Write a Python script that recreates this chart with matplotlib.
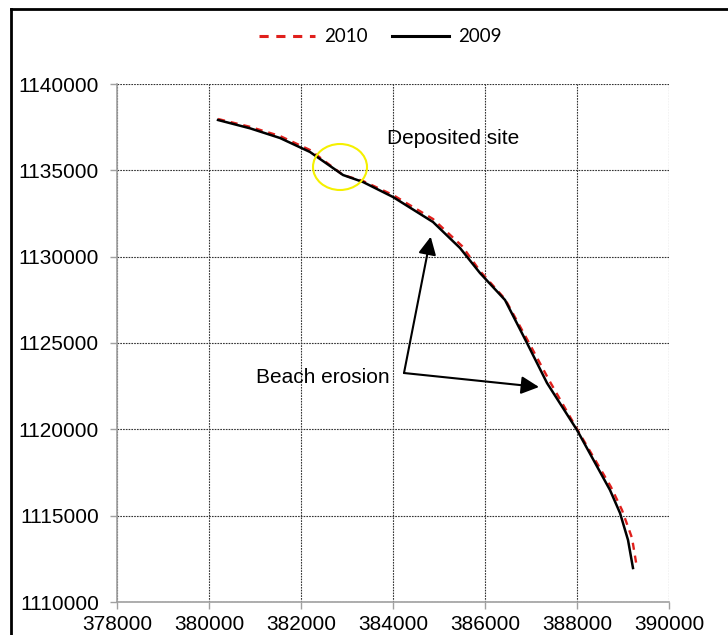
import matplotlib
matplotlib.use("Agg")
import matplotlib.pyplot as plt
from matplotlib.patches import Ellipse
from matplotlib.lines import Line2D

# shoreline coordinates
x_2009 = [380196, 380891, 381543, 382196, 382913, 383348, 384000, 384870, 385457,
          385891, 386435, 386913, 387348, 388000, 388717, 388935, 389109, 389217]
y_2009 = [1137915, 1137434, 1136873, 1136062, 1134730, 1134324, 1133455, 1132007, 1130501,
          1129053, 1127490, 1124999, 1122683, 1119960, 1116485, 1115153, 1113589, 1111968]

x_2010 = [380196, 380891, 381543, 382196, 382913, 383348, 384000, 384870, 385500,
          385891, 386435, 386935, 387391, 388000, 388739, 388978, 389196, 389304]
y_2010 = [1137973, 1137520, 1136988, 1136178, 1134730, 1134382, 1133571, 1132181, 1130617,
          1129170, 1127548, 1125115, 1122856, 1120018, 1116658, 1115326, 1113705, 1111968]

x_ticks = [378000, 380000, 382000, 384000, 386000, 388000, 390000]
y_ticks = [1110000, 1115000, 1120000, 1125000, 1130000, 1135000, 1140000]

fig = plt.figure(figsize=(7.28, 6.35), dpi=100)
ax = fig.add_axes([117 / 728, 1 - 602 / 635, (669 - 117) / 728, (602 - 84) / 635])

ax.plot(x_2010, y_2010, color="#e0201c", lw=1.7, ls=(0, (3, 2.5)), label="2010", zorder=3)
ax.plot(x_2009, y_2009, color="black", lw=1.8, label="2009", zorder=4)

ax.set_xlim(378000, 390000)
ax.set_ylim(1110000, 1140000)
ax.set_xticks(x_ticks)
ax.set_yticks(y_ticks)
ax.set_xticklabels([str(v) for v in x_ticks])
ax.set_yticklabels([str(v) for v in y_ticks])

ax.grid(True, color="#333333", lw=0.8, ls=(0, (1.5, 1)))
ax.set_axisbelow(True)
for s in ("top", "right"):
    ax.spines[s].set_visible(False)
for s in ("left", "bottom"):
    ax.spines[s].set_color("#a0a0a0")
    ax.spines[s].set_linewidth(1.2)
ax.tick_params(axis="both", colors="#a0a0a0", length=5, width=1.0,
               labelcolor="black", labelsize=15)
ax.tick_params(axis="y", pad=8)
ax.tick_params(axis="x", pad=4)
for lab in ax.get_xticklabels() + ax.get_yticklabels():
    lab.set_fontfamily("Liberation Sans")

# yellow circle on the deposited part
ax.add_patch(Ellipse((382848, 1135193), 1174, 2664, fill=False,
                     edgecolor="#f5f000", lw=1.5, zorder=5))

ax.text(383870, 1136815, "Deposited site", fontsize=15, family="Liberation Sans",
        ha="left", va="center")
ax.text(381022, 1123030, "Beach erosion", fontsize=15, family="Liberation Sans",
        ha="left", va="center")

elbow = (384239, 1123262)
for tip in [(384820, 1131156), (387174, 1122451)]:
    ax.annotate("", xy=tip, xytext=elbow,
                arrowprops=dict(arrowstyle="-|>,head_length=0.6,head_width=0.3",
                                mutation_scale=18, color="black", lw=1.5,
                                shrinkA=0, shrinkB=0))

leg = fig.legend(loc="center", bbox_to_anchor=(0.522, 0.942), ncol=2, frameon=False,
                 prop={"family": "Lato", "size": 13.5}, handlelength=3.0,
                 handletextpad=0.5, columnspacing=1.3)
for h in leg.legend_handles:
    h.set_linewidth(2.2)

# black border of the chart area (cut off on the right and bottom)
fig.add_artist(Line2D([11 / 728, 11 / 728], [0, 1 - 9 / 635], color="black", lw=2))
fig.add_artist(Line2D([11 / 728, 1], [1 - 9 / 635, 1 - 9 / 635], color="black", lw=2))

fig.savefig("out.png", dpi=100, facecolor="white")
